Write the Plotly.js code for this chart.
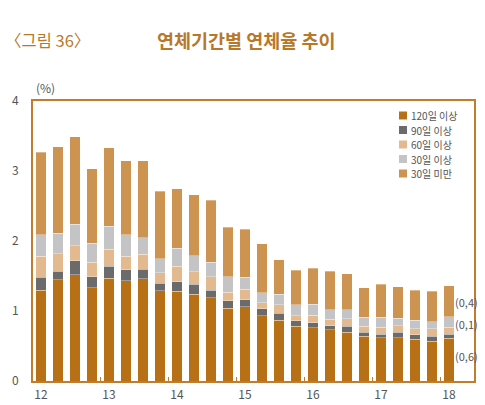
<!DOCTYPE html>
<html>
<head>
<meta charset="utf-8">
<script src="https://cdn.plot.ly/plotly-3.0.1.min.js"></script>
<style>html,body{margin:0;padding:0;background:#fff;}#chart{width:485px;height:405px;}</style>
</head>
<body>
<div id="chart"></div>
<script>
// Quarters 2012Q1 .. 2018Q1
var quarters = ['12Q1','12Q2','12Q3','12Q4','13Q1','13Q2','13Q3','13Q4','14Q1','14Q2','14Q3','14Q4',
                '15Q1','15Q2','15Q3','15Q4','16Q1','16Q2','16Q3','16Q4','17Q1','17Q2','17Q3','17Q4','18Q1'];
var tickLabels = ['12','13','14','15','16','17','18'];

var over120 = [1.30,1.45,1.52,1.33,1.47,1.43,1.46,1.29,1.28,1.24,1.19,1.04,1.06,0.93,0.87,0.78,0.76,0.73,0.70,0.64,0.62,0.62,0.60,0.57,0.61];
var over90  = [0.18,0.12,0.20,0.16,0.17,0.16,0.14,0.11,0.14,0.14,0.11,0.11,0.10,0.10,0.10,0.08,0.07,0.06,0.08,0.06,0.05,0.08,0.06,0.07,0.06];
var over60  = [0.30,0.25,0.21,0.21,0.24,0.19,0.21,0.15,0.22,0.18,0.19,0.12,0.15,0.09,0.12,0.07,0.11,0.09,0.11,0.08,0.10,0.09,0.09,0.11,0.10];
var over30  = [0.31,0.29,0.31,0.27,0.33,0.31,0.24,0.20,0.26,0.23,0.21,0.22,0.17,0.14,0.15,0.16,0.16,0.14,0.13,0.13,0.14,0.11,0.12,0.10,0.15];
var under30 = [1.18,1.24,1.25,1.06,1.12,1.06,1.10,0.96,0.85,0.87,0.88,0.71,0.69,0.70,0.49,0.49,0.51,0.55,0.51,0.42,0.47,0.45,0.43,0.43,0.44];

var seriesNames = ['120일 이상','90일 이상','60일 이상','30일 이상','30일 미만'];
var seriesColors = ['#b87016','#6b6b6b','#e3b98f','#c4c4c6','#cc9351'];
var seriesData = [over120, over90, over60, over30, under30];

// labels on the last bar
var lastLabelSeries = [0, 3, 4];
var lastLabelText = ['(0,6)', '(0,1)', '(0,4)'];

var frameColor = '#c27c2c';
var titleColor = '#b8782a';
var textColor = '#555555';
var FONT = 'Noto Sans CJK KR, Noto Sans, sans-serif';

var xIdx = quarters.map(function(q, i){ return i; });

var traces = seriesData.map(function(vals, k){
  return {
    type: 'bar',
    x: xIdx,
    y: vals,
    name: seriesNames[k],
    marker: {color: seriesColors[k], line: {color: 'rgba(255,255,255,0.55)', width: 0.6}},
    hoverinfo: 'x+y+name',
    showlegend: false
  };
});

var tickVals = tickLabels.map(function(t, i){ return i * 4; });
var minorVals = [];
for (var m = 3.5; m < quarters.length - 1; m += 4) minorVals.push(m);

// plot area in pixels: left 33, right 474, top 101, bottom 381
var PL = 33, PR = 474, PT = 101, PB = 381;
function px2x(px){ return (px - PL) / (PR - PL); }
function px2y(py){ return (PB - py) / (PB - PT); }

var annotations = [];
var shapes = [];

// titles
annotations.push({xref:'paper', yref:'paper', x: px2x(3), y: px2y(40), xanchor:'left', yanchor:'middle',
  text:'〈그림 36〉', showarrow:false, font:{family:FONT, size:16.5, color:titleColor}});
annotations.push({xref:'paper', yref:'paper', x: px2x(246), y: px2y(40), xanchor:'center', yanchor:'middle',
  text:'<b>연체기간별 연체율 추이</b>', showarrow:false, font:{family:FONT, size:18.5, color:titleColor}});
annotations.push({xref:'paper', yref:'paper', x: px2x(34), y: px2y(88), xanchor:'left', yanchor:'middle',
  text:'(%)', showarrow:false, font:{family:FONT, size:12, color:textColor}});

// custom legend (compact spacing)
var legTop = 115.5, legStep = 14.5;
seriesNames.forEach(function(nm, k){
  var cy = legTop + k * legStep;
  shapes.push({type:'rect', xref:'paper', yref:'paper', x0: px2x(399), x1: px2x(407),
    y0: px2y(cy + 4), y1: px2y(cy - 4), fillcolor: seriesColors[k], line:{width:0}});
  annotations.push({xref:'paper', yref:'paper', x: px2x(410), y: px2y(cy), xanchor:'left', yanchor:'middle',
    text: nm, showarrow:false, borderpad:0, font:{family:FONT, size:10, color:textColor}});
});

// labels beside the last bar
var last = quarters.length - 1;
var lastShift = [4, -2, -1];
lastLabelSeries.forEach(function(si, j){
  var base = 0;
  for (var k = 0; k < si; k++) base += seriesData[k][last];
  var mid = base + seriesData[si][last] / 2;
  annotations.push({xref:'x', yref:'y', x: last + 0.22, y: mid, yshift: lastShift[j], xanchor:'left', yanchor:'middle',
    text: lastLabelText[j], showarrow:false, font:{family:FONT, size:11, color:textColor}});
});

var layout = {
  width: 485, height: 405,
  margin: {l: PL, r: 485 - PR, t: PT, b: 405 - PB, pad: 0},
  paper_bgcolor: '#ffffff', plot_bgcolor: '#ffffff',
  barmode: 'stack', bargap: 0.38,
  showlegend: false,
  font: {family: FONT, size: 12, color: textColor},
  xaxis: {
    range: [-0.47, quarters.length + 0.47],
    tickvals: tickVals, ticktext: tickLabels,
    ticks: '', showgrid: false, zeroline: false,
    showline: true, mirror: true, linecolor: frameColor, linewidth: 2,
    tickfont: {family: FONT, size: 12, color: textColor},
    ticklabelstandoff: 2,
    minor: {tickvals: minorVals, ticks: 'inside', ticklen: 4, tickwidth: 1, tickcolor: frameColor, showgrid: false},
    fixedrange: true
  },
  yaxis: {
    range: [0, 4], tickvals: [0,1,2,3,4],
    ticks: '', showgrid: false, zeroline: false,
    showline: true, mirror: true, linecolor: frameColor, linewidth: 2,
    tickfont: {family: FONT, size: 12, color: textColor},
    ticklabelstandoff: 10,
    fixedrange: true
  },
  annotations: annotations,
  shapes: shapes
};

Plotly.newPlot('chart', traces, layout, {displayModeBar: false, staticPlot: true});
</script>
</body>
</html>
